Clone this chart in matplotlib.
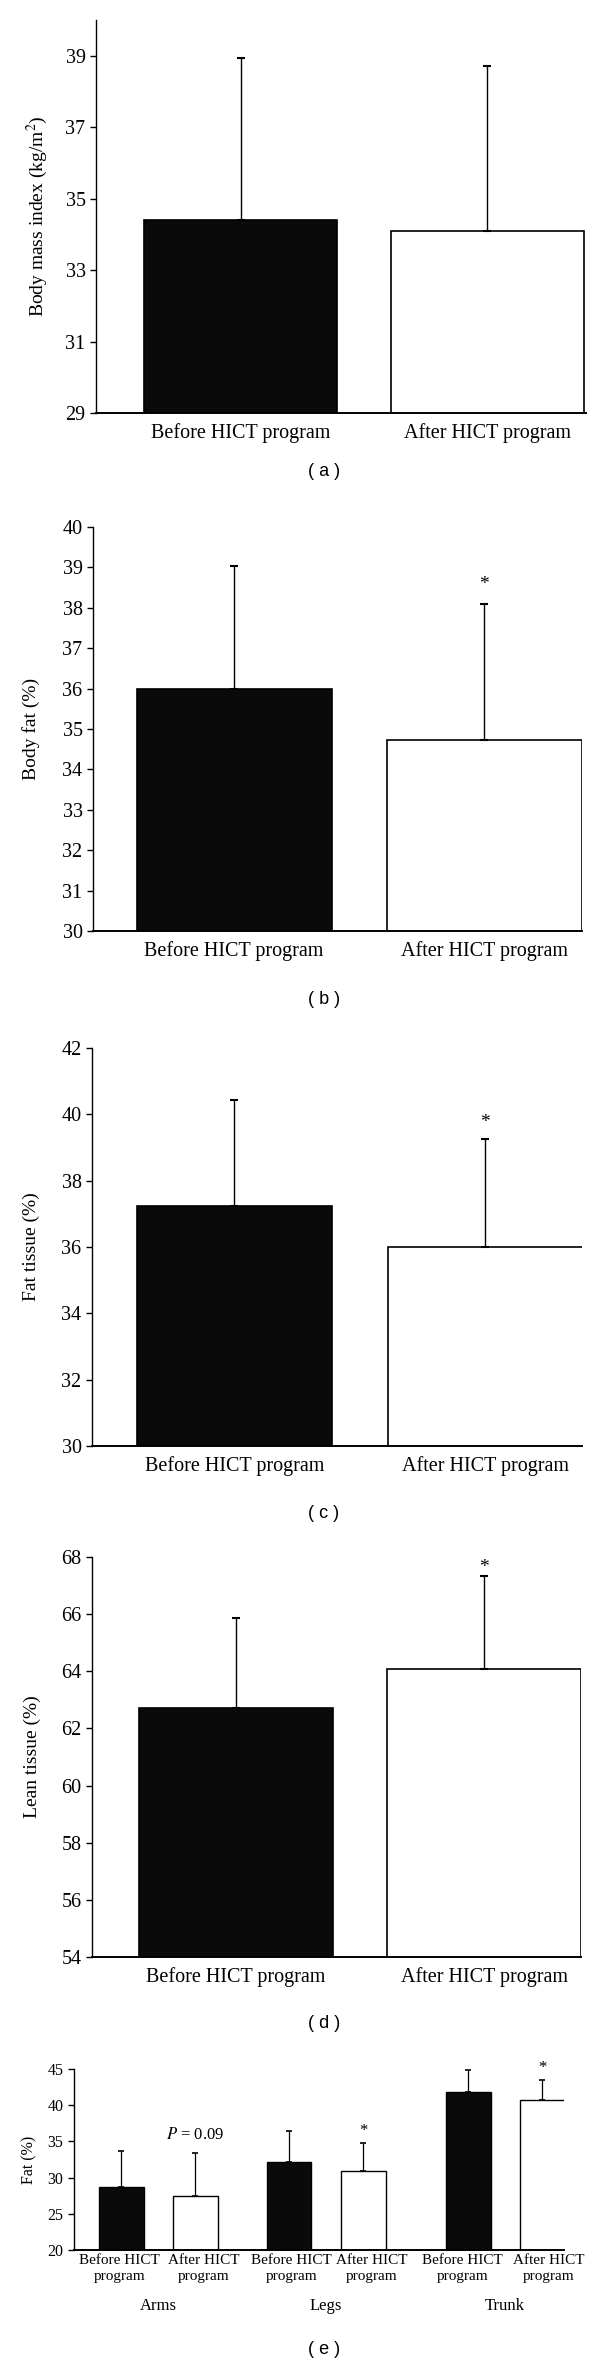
import matplotlib
matplotlib.use("Agg")
import matplotlib.pyplot as plt
import matplotlib.transforms as mtransforms

plt.rcParams['font.family'] = ['Liberation Serif', 'DejaVu Serif']
plt.rcParams['mathtext.fontset'] = 'stix'

# ---------------------------------------------------------------------------
# Data (means and SD)
# ---------------------------------------------------------------------------
groups = ["Before HICT program", "After HICT program"]

bmi_mean = [34.40, 34.10]
bmi_sd = [4.55, 4.60]

bodyfat_mean = [36.00, 34.74]
bodyfat_sd = [3.03, 3.35]

fat_tissue_mean = [37.24, 36.00]
fat_tissue_sd = [3.19, 3.26]

lean_tissue_mean = [62.72, 64.08]
lean_tissue_sd = [3.13, 3.27]

regions = ["Arms", "Legs", "Trunk"]
region_before_mean = [28.67, 32.18, 41.77]
region_before_sd = [5.03, 4.19, 3.09]
region_after_mean = [27.43, 30.98, 40.66]
region_after_sd = [5.90, 3.78, 2.77]
region_note = ["P = 0.09", "*", "*"]

fig = plt.figure(figsize=(6, 23.66), dpi=100)

bar_colors = ['#0a0a0a', 'white']


def style_axis(ax, ylim, yticks):
    ax.set_ylim(*ylim)
    ax.set_yticks(yticks)
    for s in ['top', 'right']:
        ax.spines[s].set_visible(False)
    ax.spines['left'].set_linewidth(1.0)
    ax.spines['bottom'].set_linewidth(1.4)
    ax.tick_params(axis='y', direction='out', length=4, width=1.0)
    ax.tick_params(axis='x', length=0)


def two_bar_panel(rect, means, sds, ylim, yticks, ylabel, label_x, xlim, star_offset, caption, cap_y):
    ax = fig.add_axes(rect)
    x = [0, 1]
    ax.bar(x, means, width=0.78, color=bar_colors, edgecolor='black', linewidth=1.2, zorder=2)
    ax.errorbar(x, means, yerr=[[0, 0], sds], fmt='none', ecolor='black',
                elinewidth=1.0, capsize=3, capthick=1.5, zorder=3)
    style_axis(ax, ylim, yticks)
    ax.set_xlim(*xlim)
    ax.set_xticks(x)
    ax.set_xticklabels(groups, fontsize=14.5)
    ax.tick_params(axis='x', pad=7)
    ax.tick_params(axis='y', labelsize=14.5)
    ax.set_ylabel(ylabel, fontsize=14, va='center')
    ax.yaxis.set_label_coords(label_x, 0.5)
    if star_offset is not None:
        ax.annotate('*', (1, means[1] + sds[1]), xytext=(0, star_offset),
                    textcoords='offset points', ha='center', va='center', fontsize=14)
    fig.text(0.54, 1 - cap_y / 2366, caption, family='Liberation Sans', fontsize=13,
             ha='center', va='center')
    return ax


# (a) Body mass index
two_bar_panel([0.16, 1 - 413 / 2366, 0.8167, 393 / 2366], bmi_mean, bmi_sd,
              (29, 40), [29, 31, 33, 35, 37, 39], 'Body mass index (kg/m$^2$)',
              (37 - 96) / 490, (-0.586, 1.40), None, '( a )', 472)

# (b) Body fat
two_bar_panel([0.155, 1 - 931 / 2366, 0.815, 404 / 2366], bodyfat_mean, bodyfat_sd,
              (30, 40), list(range(30, 41)), 'Body fat (%)',
              (31 - 93) / 489, (-0.564, 1.39), 14, '( b )', 1000)

# (c) Fat tissue
two_bar_panel([0.1533, 1 - 1446 / 2366, 0.8167, 398 / 2366], fat_tissue_mean, fat_tissue_sd,
              (30, 42), list(range(30, 43, 2)), 'Fat tissue (%)',
              (31 - 92) / 490, (-0.568, 1.385), 12, '( c )', 1513)

# (d) Lean tissue
two_bar_panel([0.1533, 1 - 1957 / 2366, 0.815, 400 / 2366], lean_tissue_mean, lean_tissue_sd,
              (54, 68), list(range(54, 69, 2)), 'Lean tissue (%)',
              (32 - 92) / 489, (-0.578, 1.39), 6, '( d )', 2023)

# (e) Regional fat
ax = fig.add_axes([0.1233, 1 - 2250 / 2366, 0.8167, 181 / 2366])
group_pos = [0, 2.24, 4.63]
after_shift = 0.99
xb = group_pos
xa = [p + after_shift for p in group_pos]
ax.bar(xb, region_before_mean, width=0.6, color='#0a0a0a', edgecolor='black', linewidth=1.0, zorder=2)
ax.bar(xa, region_after_mean, width=0.6, color='white', edgecolor='black', linewidth=1.0, zorder=2)
ax.errorbar(xb, region_before_mean, yerr=[[0] * 3, region_before_sd], fmt='none', ecolor='black',
            elinewidth=0.9, capsize=2, capthick=1.2, zorder=3)
ax.errorbar(xa, region_after_mean, yerr=[[0] * 3, region_after_sd], fmt='none', ecolor='black',
            elinewidth=0.9, capsize=2, capthick=1.2, zorder=3)
style_axis(ax, (20, 45), [20, 25, 30, 35, 40, 45])
ax.set_xlim(-0.63, 5.91)
ax.set_xticks([])
ax.tick_params(axis='y', labelsize=11.5)
ax.set_ylabel('Fat (%)', fontsize=11.5, va='center')
ax.yaxis.set_label_coords((29 - 74) / 490, 0.5)

trans = mtransforms.blended_transform_factory(ax.transData, ax.transAxes)
# category labels under each bar, nudged sideways like the original layout
before_nudge = [-1, 1.5, -4]
after_nudge = [6, 6, 4.5]
for b, a, nb, na in zip(xb, xa, before_nudge, after_nudge):
    ax.annotate('Before HICT\nprogram', (b, 0), xycoords=trans, xytext=(nb, -3),
                textcoords='offset points', ha='center', va='top', fontsize=11,
                linespacing=1.25)
    ax.annotate('After HICT\nprogram', (a, 0), xycoords=trans, xytext=(na, -3),
                textcoords='offset points', ha='center', va='top', fontsize=11,
                linespacing=1.25)

for b, a, name in zip(xb, xa, regions):
    ax.text((b + a) / 2, -(2306 - 2250) / 181, name, transform=trans,
            ha='center', va='center', fontsize=12)

for x, m, s, note in zip(xa, region_after_mean, region_after_sd, region_note):
    if note == '*':
        ax.annotate('*', (x, m + s), xytext=(0, 9), textcoords='offset points',
                    ha='center', va='center', fontsize=12)
    else:
        ax.annotate('$P$ = 0.09', (x, m + s), xytext=(0, 13), textcoords='offset points',
                    ha='center', va='center', fontsize=12)

fig.text(0.54, 1 - 2350 / 2366, '( e )', family='Liberation Sans', fontsize=13,
         ha='center', va='center')

fig.savefig('out.png', dpi=100)
